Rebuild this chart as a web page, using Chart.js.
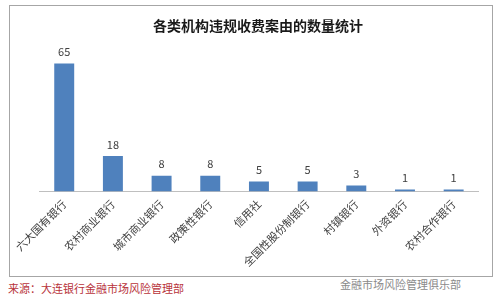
<!DOCTYPE html>
<html>
<head>
<meta charset="utf-8">
<script src="https://cdn.jsdelivr.net/npm/chart.js@4/dist/chart.umd.min.js"></script>
<style>
  html, body { margin: 0; padding: 0; background: #ffffff; }
  body { width: 500px; height: 303px; position: relative; overflow: hidden; font-family: "Noto Sans CJK SC", sans-serif; }
  #frame { position: absolute; left: 9px; top: 5px; width: 482px; height: 270px; border: 1px solid #a6a6a6; background: #fff; }
  #frame canvas { display: block; }
  #source { position: absolute; left: 8px; top: 280px; font-size: 11px; color: #b8333a; white-space: nowrap; }
  #mark { position: absolute; left: 340px; top: 276px; font-size: 11px; color: #8a8a8a; white-space: nowrap; }
</style>
</head>
<body>
<div id="frame"><canvas id="c" width="482" height="270"></canvas></div>
<div id="source">来源：大连银行金融市场风险管理部</div>
<div id="mark">金融市场风险管理俱乐部</div>
<script>
const chartTitle = "各类机构违规收费案由的数量统计";
const categories = ["六大国有银行", "农村商业银行", "城市商业银行", "政策性银行", "信用社", "全国性股份制银行", "村镇银行", "外资银行", "农村合作银行"];
const counts = [65, 18, 8, 8, 5, 5, 3, 1, 1];

const valueLabels = {
  id: "valueLabels",
  afterDatasetsDraw(chart) {
    const ctx = chart.ctx;
    const meta = chart.getDatasetMeta(0);
    ctx.save();
    ctx.font = '11px "Noto Sans CJK SC", sans-serif';
    ctx.fillStyle = "#404040";
    ctx.textAlign = "center";
    ctx.textBaseline = "bottom";
    meta.data.forEach((bar, i) => {
      ctx.fillText(String(counts[i]), bar.x, bar.y - 6);
    });
    ctx.restore();
  }
};

new Chart(document.getElementById("c"), {
  type: "bar",
  data: {
    labels: categories,
    datasets: [{
      data: counts,
      backgroundColor: "#4f81bd",
      borderWidth: 0,
      categoryPercentage: 1,
      barPercentage: 0.41
    }]
  },
  options: {
    responsive: false,
    animation: false,
    layout: { padding: { left: 28, right: 14, top: 0, bottom: 1 } },
    plugins: {
      legend: { display: false },
      tooltip: { enabled: false },
      title: {
        display: true,
        text: chartTitle,
        color: "#1a1a1a",
        font: { family: '"Noto Sans CJK SC", sans-serif', size: 14, weight: "bold" },
        padding: { top: 11, bottom: 10 }
      }
    },
    scales: {
      x: {
        grid: { display: false, drawTicks: false },
        border: { display: true, color: "#bfbfbf", width: 1 },
        ticks: {
          color: "#404040",
          font: { family: '"Noto Sans CJK SC", sans-serif', size: 11 },
          minRotation: 45,
          maxRotation: 45,
          autoSkip: false,
          padding: 6
        }
      },
      y: {
        display: false,
        min: 0,
        max: 75
      }
    }
  },
  plugins: [valueLabels]
});
</script>
</body>
</html>
